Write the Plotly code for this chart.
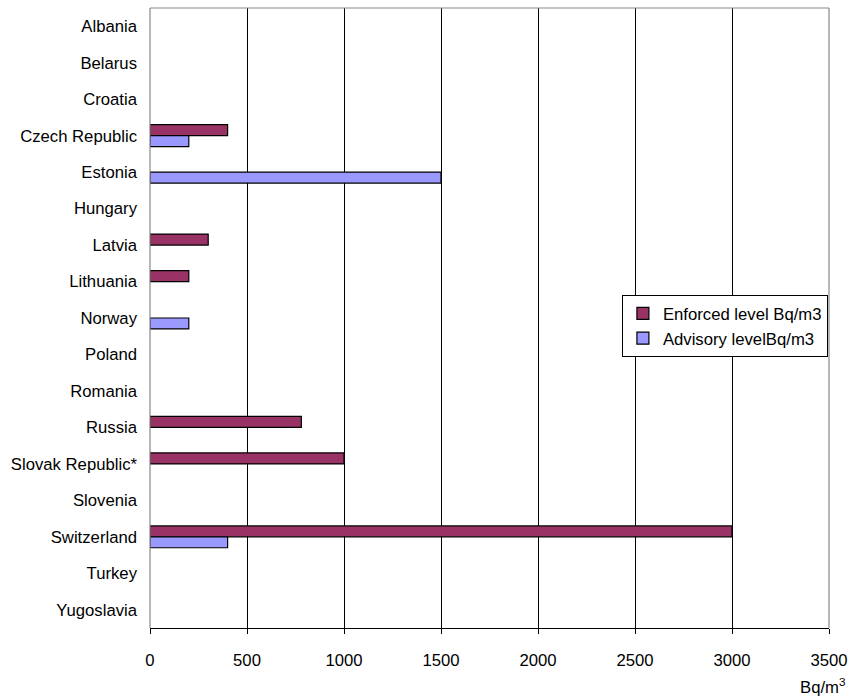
import plotly.graph_objects as go

countries = ["Albania", "Belarus", "Croatia", "Czech Republic", "Estonia", "Hungary",
             "Latvia", "Lithuania", "Norway", "Poland", "Romania", "Russia",
             "Slovak Republic*", "Slovenia", "Switzerland", "Turkey", "Yugoslavia"]
enforced = [None, None, None, 400, None, None, 300, 200, None, None, None, 780,
            1000, None, 3000, None, None]
advisory = [None, None, None, 200, 1500, None, None, None, 200, None, None, None,
            None, None, 400, None, None]
x_ticks = [0, 500, 1000, 1500, 2000, 2500, 3000, 3500]

FONT = "Liberation Sans, Arial, sans-serif"
FS = 16.7

fig = go.Figure()
fig.add_trace(go.Bar(y=countries, x=enforced, orientation="h",
                     name="Enforced level Bq/m3",
                     marker=dict(color="#993366", line=dict(color="black", width=1.2))))
fig.add_trace(go.Bar(y=countries, x=advisory, orientation="h",
                     name="Advisory levelBq/m3",
                     marker=dict(color="#9999FF", line=dict(color="black", width=1.2))))

# grey frame on the left, top and right of the plot area
for x0, y0, x1, y1 in [(0, 0, 0, 1), (0, 1, 1, 1), (1, 0, 1, 1)]:
    fig.add_shape(type="line", xref="paper", yref="paper", x0=x0, y0=y0, x1=x1, y1=y1,
                  line=dict(color="#888888", width=1.2), layer="above")

fig.add_annotation(text="Bq/m<sup>3</sup>", xref="paper", yref="paper",
                   x=1.027, y=-0.094, xanchor="right", yanchor="middle",
                   showarrow=False, font=dict(family=FONT, size=FS, color="black"))

fig.update_layout(
    width=848, height=698,
    margin=dict(l=150, r=19, t=8, b=70, autoexpand=False),
    paper_bgcolor="white", plot_bgcolor="white",
    font=dict(family=FONT, size=FS, color="black"),
    barmode="group", bargap=0.4, bargroupgap=0,
    legend=dict(x=0.695, y=0.537, xanchor="left", yanchor="top",
                bordercolor="black", borderwidth=1, bgcolor="white",
                font=dict(family=FONT, size=FS), itemwidth=30, traceorder="normal",
                tracegroupgap=0),
    showlegend=True,
)
fig.update_xaxes(range=[0, 3500], tickvals=x_ticks, ticktext=[str(v) for v in x_ticks],
                 showgrid=True, gridcolor="black", gridwidth=1, zeroline=False,
                 showline=True, linecolor="black", linewidth=1.2, automargin=False,
                 ticks="outside", ticklen=5, tickcolor="black", ticklabelstandoff=12)
fig.update_yaxes(type="category", categoryorder="array", categoryarray=countries,
                 autorange="reversed", showgrid=False, zeroline=False, automargin=False,
                 showline=False, ticks="", ticklabelstandoff=12)

fig.write_html("out.html")
